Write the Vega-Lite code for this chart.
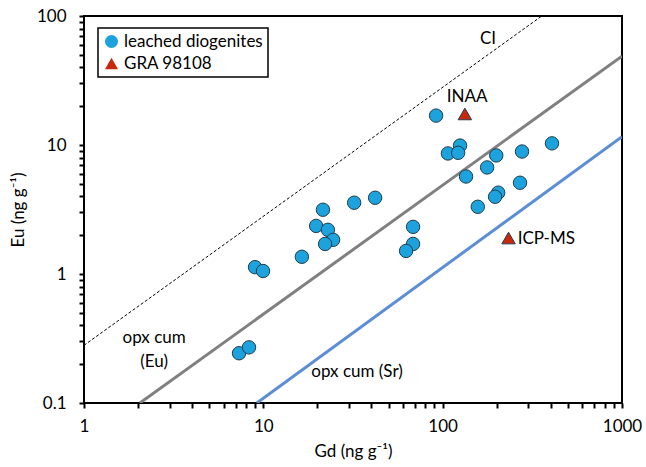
{
  "$schema": "https://vega.github.io/schema/vega-lite/v6.json",
  "width": 538,
  "height": 387,
  "autosize": "none",
  "padding": {"left": 84, "top": 16, "right": 24, "bottom": 64},
  "background": "white",
  "config": {
    "font": "Lato",
    "view": {"stroke": "black", "strokeWidth": 2},
    "axis": {
      "grid": false,
      "domain": false,
      "ticks": true,
      "tickSize": 5,
      "tickColor": "black",
      "tickWidth": 2,
      "labelFont": "Lato",
      "labelFontSize": 17,
      "labelColor": "black",
      "titleFont": "Lato",
      "titleFontSize": 17,
      "titleFontWeight": "normal",
      "titleColor": "black",
      "labelOverlap": false,
      "labelFlush": false
    },
    "legend": {"strokeColor": "black", "strokeWidth": 1.5}
  },
  "datasets": {
    "lines": [
      {"series": "CI", "gd": 1, "eu": 0.28},
      {"series": "CI", "gd": 357, "eu": 100},
      {"series": "Eu", "gd": 2.05, "eu": 0.1},
      {"series": "Eu", "gd": 1000, "eu": 48.8},
      {"series": "Sr", "gd": 9.2, "eu": 0.1},
      {"series": "Sr", "gd": 1000, "eu": 11.6}
    ],
    "points": [
      {"type": "leached diogenites", "gd": 7.32, "eu": 0.243},
      {"type": "leached diogenites", "gd": 8.32, "eu": 0.27},
      {"type": "leached diogenites", "gd": 8.99, "eu": 1.13},
      {"type": "leached diogenites", "gd": 9.96, "eu": 1.055},
      {"type": "leached diogenites", "gd": 16.4, "eu": 1.36},
      {"type": "leached diogenites", "gd": 21.5, "eu": 3.15},
      {"type": "leached diogenites", "gd": 19.7, "eu": 2.36},
      {"type": "leached diogenites", "gd": 22.9, "eu": 2.2},
      {"type": "leached diogenites", "gd": 24.5, "eu": 1.84},
      {"type": "leached diogenites", "gd": 22.1, "eu": 1.71},
      {"type": "leached diogenites", "gd": 32.1, "eu": 3.57},
      {"type": "leached diogenites", "gd": 42.0, "eu": 3.9},
      {"type": "leached diogenites", "gd": 68.4, "eu": 2.32},
      {"type": "leached diogenites", "gd": 68.4, "eu": 1.71},
      {"type": "leached diogenites", "gd": 62.5, "eu": 1.51},
      {"type": "leached diogenites", "gd": 91.9, "eu": 16.9},
      {"type": "leached diogenites", "gd": 125, "eu": 9.9},
      {"type": "leached diogenites", "gd": 107, "eu": 8.6},
      {"type": "leached diogenites", "gd": 122, "eu": 8.7},
      {"type": "leached diogenites", "gd": 199, "eu": 8.3},
      {"type": "leached diogenites", "gd": 277, "eu": 8.9},
      {"type": "leached diogenites", "gd": 407, "eu": 10.3},
      {"type": "leached diogenites", "gd": 177, "eu": 6.7},
      {"type": "leached diogenites", "gd": 135, "eu": 5.7},
      {"type": "leached diogenites", "gd": 270, "eu": 5.1},
      {"type": "leached diogenites", "gd": 204, "eu": 4.27},
      {"type": "leached diogenites", "gd": 196, "eu": 3.97},
      {"type": "leached diogenites", "gd": 157, "eu": 3.32},
      {"type": "GRA 98108", "gd": 133, "eu": 17.4},
      {"type": "GRA 98108", "gd": 233, "eu": 1.9}
    ],
    "labels": [
      {"text": "CI", "gd": 179, "eu": 66.2},
      {"text": "INAA", "gd": 137, "eu": 23.4},
      {"text": "opx cum", "gd": 2.46, "eu": 0.318},
      {"text": "(Eu)", "gd": 2.46, "eu": 0.207},
      {"text": "opx cum (Sr)", "gd": 33.3, "eu": 0.173}
    ],
    "leftlabels": [
      {"text": "ICP-MS", "gd": 262, "eu": 1.88}
    ]
  },
  "encoding": {
    "x": {
      "field": "gd", "type": "quantitative",
      "scale": {"type": "log", "domain": [1, 1000], "nice": false},
      "axis": {
        "title": "Gd (ng g⁻¹)",
        "values": [1,2,3,4,5,6,7,8,9,10,20,30,40,50,60,70,80,90,100,200,300,400,500,600,700,800,900,1000],
        "labelExpr": "indexof([1,10,100,1000], datum.value) >= 0 ? '' + datum.value : ''",
        "labelPadding": 10,
        "titlePadding": 9
      }
    },
    "y": {
      "field": "eu", "type": "quantitative",
      "scale": {"type": "log", "domain": [0.1, 100], "nice": false},
      "axis": {
        "title": "Eu (ng g⁻¹)",
        "values": [0.1,0.2,0.3,0.4,0.5,0.6,0.7,0.8,0.9,1,2,3,4,5,6,7,8,9,10,20,30,40,50,60,70,80,90,100],
        "labelExpr": "abs(log(datum.value)/LN10 - round(log(datum.value)/LN10)) < 1e-6 ? '' + datum.value : ''",
        "labelPadding": 13,
        "titlePadding": 9
      }
    }
  },
  "layer": [
    {
      "data": {"name": "lines"},
      "transform": [{"filter": "datum.series == 'CI'"}],
      "mark": {"type": "line", "color": "black", "strokeWidth": 1, "strokeDash": [3, 2], "clip": true}
    },
    {
      "data": {"name": "lines"},
      "transform": [{"filter": "datum.series == 'Eu'"}],
      "mark": {"type": "line", "color": "#808080", "strokeWidth": 3, "clip": true}
    },
    {
      "data": {"name": "lines"},
      "transform": [{"filter": "datum.series == 'Sr'"}],
      "mark": {"type": "line", "color": "#5B8ED6", "strokeWidth": 3, "clip": true}
    },
    {
      "data": {"name": "points"},
      "mark": {"type": "point", "filled": true, "stroke": "#203c4c", "strokeWidth": 1, "opacity": 1},
      "encoding": {
        "shape": {
          "field": "type", "type": "nominal",
          "scale": {"domain": ["leached diogenites", "GRA 98108"], "range": ["circle", "triangle-up"]},
          "legend": {
            "title": null,
            "orient": "none",
            "legendX": 14,
            "legendY": 12,
            "strokeColor": "black",
            "fillColor": "white",
            "padding": 5,
            "labelFontSize": 17,
            "labelFont": "Lato",
            "labelColor": "black",
            "symbolSize": 170,
            "symbolStrokeColor": "#203c4c",
            "symbolStrokeWidth": 1,
            "rowPadding": 3,
            "labelOffset": 4
          }
        },
        "fill": {
          "field": "type", "type": "nominal",
          "scale": {"domain": ["leached diogenites", "GRA 98108"], "range": ["#1CA2DC", "#C9280C"]},
          "legend": {
            "title": null,
            "orient": "none",
            "legendX": 14,
            "legendY": 12,
            "strokeColor": "black",
            "fillColor": "white",
            "padding": 5,
            "labelFontSize": 17,
            "labelFont": "Lato",
            "labelColor": "black",
            "symbolSize": 170,
            "symbolStrokeColor": "#203c4c",
            "symbolStrokeWidth": 1,
            "rowPadding": 3,
            "labelOffset": 4
          }
        },
        "size": {"value": 180}
      }
    },
    {
      "data": {"name": "labels"},
      "mark": {"type": "text", "fontSize": 17, "font": "Lato", "color": "black", "baseline": "middle", "align": "center"},
      "encoding": {
        "text": {"field": "text", "type": "nominal"}
      }
    },
    {
      "data": {"name": "leftlabels"},
      "mark": {"type": "text", "fontSize": 17, "font": "Lato", "color": "black", "baseline": "middle", "align": "left"},
      "encoding": {
        "text": {"field": "text", "type": "nominal"}
      }
    }
  ]
}
